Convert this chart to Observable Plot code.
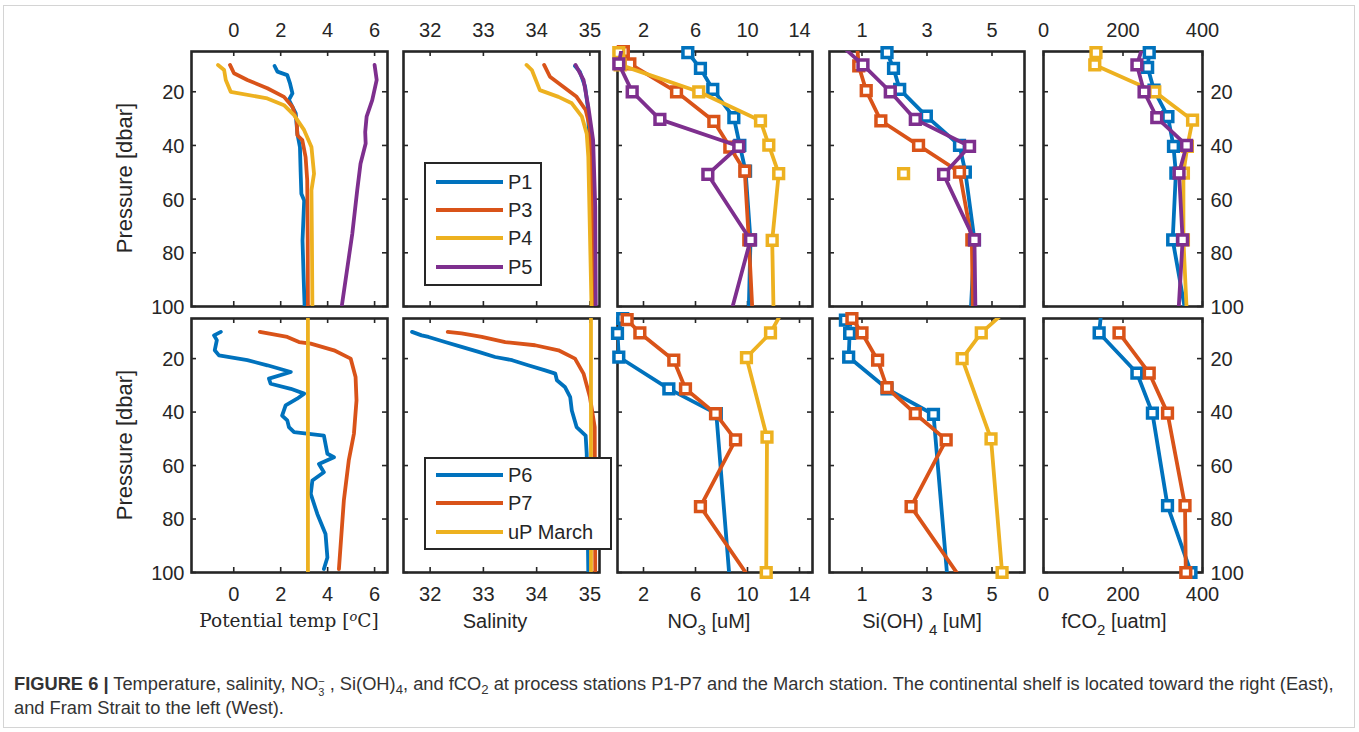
<!DOCTYPE html>
<html><head><meta charset="utf-8">
<script src="https://cdn.jsdelivr.net/npm/d3@7"></script>
<script src="https://cdn.jsdelivr.net/npm/@observablehq/plot@0.6"></script>
<style>
body{margin:0;background:#fff;}
#root{position:relative;width:1359px;height:732px;overflow:hidden;font-family:"Liberation Sans",Arial,sans-serif;color:#262626;}
.t{position:absolute;white-space:nowrap;transform:translate(-50%,-50%);font-size:20px;}
.sub{font-size:0.75em;position:relative;top:0.45em;}
.legend{position:absolute;border:2px solid #262626;background:#fff;box-sizing:border-box;}
.lline{position:absolute;height:4px;}
.ltext{position:absolute;font-size:20px;transform:translateY(-50%);white-space:nowrap;}
.cap{position:absolute;left:14px;font-size:18.3px;line-height:22px;color:#333;white-space:nowrap;transform:translateY(-50%);}
.cap sub{font-size:0.72em;line-height:0;vertical-align:-0.3em;}
.stack{display:inline-block;vertical-align:-0.55em;font-size:0.6em;line-height:1.05;}
.stack span{display:block;}
#border{position:absolute;left:3px;top:5px;width:1352px;height:723px;border:1px solid #d4d4d4;box-sizing:border-box;}
</style></head><body><div id="root"><div id="border"></div></div>
<script>
// ---------- data: [pressure (dbar), value] ----------
const pressureTicks = [20, 40, 60, 80, 100];
const tempTicks = [0, 2, 4, 6];
const salTicks = [32, 33, 34, 35];
const no3Ticks = [2, 6, 10, 14];
const siTicks = [1, 3, 5];
const co2Ticks = [0, 200, 400];

// Potential temperature, top row
const tempP1 = [[10.4,1.74],[12.5,1.86],[13.8,2.28],[17,2.4],[20.6,2.5],[23,2.35],[28,2.64],[35.6,2.71],[40.6,2.82],[50,2.85],[58,2.88],[60.5,3.0],[75.4,2.93],[90,2.98],[100,3.02]];
const tempP3 = [[10,-0.16],[13.1,0.01],[15.6,0.58],[18.7,1.43],[21.9,2.14],[25.6,2.5],[30.6,2.68],[36.2,2.71],[38,2.92],[44.3,3.06],[53,3.13],[75,3.15],[100,3.16]];
const tempP4 = [[10,-0.67],[11.9,-0.41],[15.6,-0.34],[20,-0.13],[22.5,1.43],[25,2.14],[28.7,2.57],[34.3,3.0],[40.6,3.31],[50.5,3.42],[56.7,3.31],[75,3.33],[100,3.35]];
const tempP5 = [[10,6.0],[15.6,6.09],[23.1,5.9],[29.3,5.66],[35,5.6],[39.3,5.62],[46.8,5.4],[56.7,5.26],[72.9,5.05],[100,4.6]];
// Potential temperature, bottom row
const tempP6 = [[10,-0.55],[11.3,-0.84],[13.1,-0.72],[16.9,-0.81],[18.8,-0.63],[20.6,0.58],[22.5,1.43],[25,2.43],[27.5,1.5],[29.4,1.57],[31.3,2.43],[33.1,3.0],[35,2.7],[37.5,2.21],[41.3,2.06],[43.1,2.28],[45.6,2.35],[47.5,2.57],[48.8,3.84],[55.6,3.99],[56.9,4.27],[59.4,3.63],[62.5,3.84],[65.6,3.35],[70.6,3.28],[78.1,3.56],[85.6,3.91],[94.4,3.99],[98.7,3.84]];
const tempP7 = [[10,1.11],[11.9,2.28],[13.8,2.78],[14.4,3.28],[16.9,4.27],[20,4.98],[26.9,5.19],[35.6,5.23],[48.1,5.12],[58.1,4.9],[73.1,4.69],[98.7,4.48]];
const tempMarch = [[5,3.16],[100,3.16]];

// Salinity, top row
const salP1 = [[10.4,34.72],[12.5,34.81],[18.1,34.91],[25.6,34.96],[53,35.02],[100,35.06]];
const salP3 = [[10,34.14],[14.4,34.25],[18.1,34.5],[21.9,34.75],[26.8,34.92],[33,35.0],[50.5,35.03],[100,35.06]];
const salP4 = [[10,33.81],[11.9,33.91],[19.4,34.06],[21.9,34.41],[24.3,34.66],[29.3,34.85],[35.6,34.94],[44.3,34.97],[100,35.03]];
const salP5 = [[10,34.73],[15.6,34.88],[25.6,34.97],[38,35.06],[63,35.1],[100,35.11]];
// Salinity, bottom row
const salP6 = [[10,31.66],[11.3,31.84],[11.9,31.97],[13.8,32.28],[15.6,32.59],[17.5,32.91],[19.4,33.22],[20.6,33.54],[22.5,33.84],[24.4,34.16],[25.6,34.35],[28.1,34.38],[30.6,34.53],[34.4,34.63],[39.4,34.66],[45.6,34.75],[48.8,34.92],[55.6,34.94],[100,34.97]];
const salP7 = [[10,32.33],[10.6,32.59],[11.9,32.97],[13.8,33.41],[15,33.97],[16.9,34.41],[20,34.72],[25.6,34.88],[34.4,35.0],[45.6,35.09],[100,35.1]];
const salMarch = [[5,35.02],[100,35.02]];

// NO3 (uM) bottle samples; points outside 5-100 dbar only continue the line
const no3P1 = [[5.4,5.41],[11.3,6.38],[19.1,7.33],[29.6,8.95],[40,9.41],[49.6,9.85],[75.2,10.23],[101,10.1]];
const no3P3 = [[5,0.45],[9.6,0.95],[20,4.54],[31,7.41],[40.6,8.64],[49.6,9.79],[75.2,10.1],[101,10.37]];
const no3P4 = [[5.4,0.1],[10,0.2],[20,6.25],[30.8,11.0],[39.9,11.64],[50.5,12.4],[75.4,11.9],[101,12.0]];
const no3P5 = [[3,0.35],[9.6,0.1],[20,1.13],[30.3,3.26],[40.3,9.33],[50.8,6.95],[75.2,10.23],[101,8.8]];
const no3P6 = [[5,0.4],[10.6,0.0],[19.4,0.1],[31.3,3.95],[40.6,7.6],[101,8.6]];
const no3P7 = [[5.4,0.74],[10.4,1.72],[20.6,4.33],[31.3,5.23],[40.6,7.54],[50.4,9.08],[75.4,6.38],[101,10.0]];
const no3March = [[3,12.6],[10.4,11.77],[19.6,9.92],[49.4,11.5],[100,11.44]];

// Si(OH)4 (uM)
const siP1 = [[5.4,1.77],[11.3,1.97],[19.1,2.16],[29.1,2.98],[40,4.0],[49.9,4.18],[75.2,4.46],[101,4.35]];
const siP3 = [[3,0.85],[10.4,0.9],[19.6,1.13],[30.8,1.58],[40,2.74],[49.9,4.0],[75.2,4.38],[101,4.41]];
const siP4 = [[50.5,2.28]];
const siP5 = [[3,0.39],[10,1.03],[20,1.87],[30.3,2.64],[40.3,4.31],[50.8,3.51],[75.2,4.46],[101,4.49]];
const siP6 = [[5.6,0.49],[10.6,0.62],[19.4,0.59],[31.3,1.77],[40.9,3.2],[101,3.62]];
const siP7 = [[5,0.69],[10.4,1.0],[20.6,1.48],[30.9,1.77],[40.6,2.64],[50.4,3.59],[75.4,2.51],[101,3.97]];
const siMarch = [[3,5.35],[10.4,4.67],[20,4.08],[50,4.97],[100,5.31]];

// fCO2 (uatm)
const co2P1 = [[5.4,266],[10.9,262],[19.4,278],[29.3,313],[40.3,327],[50.3,333],[75.2,325],[101,356]];
const co2P4 = [[5.4,132],[10,129],[20,280],[30.6,375],[40.3,362],[50.3,352],[75.2,352],[101,360]];
const co2P5 = [[3,250],[10,235],[20,253],[29.6,285],[40,360],[50.3,341],[75.2,350],[101,340]];
const co2P6 = [[3,145],[10.4,140],[25.4,235],[40.4,274],[75,312],[100,371]];
const co2P7 = [[10.4,190],[25.4,266],[40.4,312],[75,356],[100,358]];

const stationsTop = ["P1", "P3", "P4", "P5"];
const stationsBottom = ["P6", "P7", "uP March"];
const stationColors = ["#0072BD", "#D95319", "#EDB120", "#7E2F8E"];
const colorOf = {P1: stationColors[0], P3: stationColors[1], P4: stationColors[2], P5: stationColors[3],
  P6: stationColors[0], P7: stationColors[1], "uP March": stationColors[2]};

// ---------- layout ----------
const root = document.getElementById("root");
const colLeft = [191, 403, 617, 829, 1043];
const colWidth = [196, 196, 195, 195, 159];
const rowTop = [51, 318];
const rowHeight = [255, 254];
const INK = "#262626";
const FONT = '"Liberation Sans", Arial, sans-serif';

function panel({col, row, xDomain, xTicks, series, markers, leftLabels, rightLabels}) {
  const M = 40, w = colWidth[col], h = rowHeight[row];
  const marks = [
    Plot.frame({stroke: INK, strokeWidth: 2.6}),
    Plot.tickX(xTicks, {x: d => d, insetBottom: h - 5, stroke: INK, strokeWidth: 1.6}),
    Plot.tickX(xTicks, {x: d => d, insetTop: h - 5, stroke: INK, strokeWidth: 1.6}),
    Plot.tickY(pressureTicks, {y: d => d, insetRight: w - 5, stroke: INK, strokeWidth: 1.6}),
    Plot.tickY(pressureTicks, {y: d => d, insetLeft: w - 5, stroke: INK, strokeWidth: 1.6}),
    Plot.text(xTicks, {x: d => d, frameAnchor: row === 0 ? "top" : "bottom", dy: row === 0 ? -21 : 22,
      lineAnchor: "middle", text: d => String(d), fontSize: 20, fill: INK})
  ];
  if (leftLabels) marks.push(Plot.text(pressureTicks, {y: d => d, frameAnchor: "left", dx: -7, dy: 1, lineAnchor: "middle", textAnchor: "end", text: d => String(d), fontSize: 20, fill: INK}));
  if (rightLabels) marks.push(Plot.text(pressureTicks, {y: d => d, frameAnchor: "right", dx: 8, dy: 1, lineAnchor: "middle", textAnchor: "start", text: d => String(d), fontSize: 20, fill: INK}));
  for (const [name, data] of series) {
    const rows = data.map(([p, v]) => ({p, v}));
    marks.push(Plot.line(rows, {x: "v", y: "p", stroke: colorOf[name], strokeWidth: 3.8, clip: true}));
    if (markers) marks.push(Plot.dot(rows.filter(d => d.p >= 5 && d.p <= 100),
      {x: "v", y: "p", symbol: "square", r: 5.5, stroke: colorOf[name], strokeWidth: 3.5, fill: "white"}));
  }
  const svg = Plot.plot({
    width: w + 2 * M, height: h + 2 * M,
    marginLeft: M, marginRight: M, marginTop: M, marginBottom: M,
    x: {domain: xDomain, axis: null},
    y: {domain: [5, 100], reverse: true, axis: null},
    style: {background: "transparent", overflow: "visible", fontFamily: FONT, color: INK, position: "absolute",
      left: (colLeft[col] - M) + "px", top: (rowTop[row] - M) + "px", maxWidth: "none"},
    marks
  });
  root.appendChild(svg);
}

const tempDomain = [-1.8, 6.55], salDomain = [31.5, 35.18], no3Domain = [0, 15], siDomain = [0, 6], co2Domain = [0, 400];

panel({col: 0, row: 0, xDomain: tempDomain, xTicks: tempTicks, leftLabels: true,
  series: [["P1", tempP1], ["P3", tempP3], ["P4", tempP4], ["P5", tempP5]]});
panel({col: 1, row: 0, xDomain: salDomain, xTicks: salTicks,
  series: [["P1", salP1], ["P3", salP3], ["P4", salP4], ["P5", salP5]]});
panel({col: 2, row: 0, xDomain: no3Domain, xTicks: no3Ticks, markers: true,
  series: [["P1", no3P1], ["P3", no3P3], ["P4", no3P4], ["P5", no3P5]]});
panel({col: 3, row: 0, xDomain: siDomain, xTicks: siTicks, markers: true,
  series: [["P1", siP1], ["P3", siP3], ["P4", siP4], ["P5", siP5]]});
panel({col: 4, row: 0, xDomain: co2Domain, xTicks: co2Ticks, markers: true, rightLabels: true,
  series: [["P1", co2P1], ["P4", co2P4], ["P5", co2P5]]});

panel({col: 0, row: 1, xDomain: tempDomain, xTicks: tempTicks, leftLabels: true,
  series: [["P6", tempP6], ["P7", tempP7], ["uP March", tempMarch]]});
panel({col: 1, row: 1, xDomain: salDomain, xTicks: salTicks,
  series: [["P6", salP6], ["P7", salP7], ["uP March", salMarch]]});
panel({col: 2, row: 1, xDomain: no3Domain, xTicks: no3Ticks, markers: true,
  series: [["P6", no3P6], ["P7", no3P7], ["uP March", no3March]]});
panel({col: 3, row: 1, xDomain: siDomain, xTicks: siTicks, markers: true,
  series: [["P6", siP6], ["P7", siP7], ["uP March", siMarch]]});
panel({col: 4, row: 1, xDomain: co2Domain, xTicks: co2Ticks, markers: true, rightLabels: true,
  series: [["P6", co2P6], ["P7", co2P7]]});

// ---------- text overlays ----------
function addText(html, x, y, extra = "") {
  const d = document.createElement("div");
  d.className = "t";
  d.style.left = x + "px"; d.style.top = y + "px";
  d.style.cssText += extra;
  d.innerHTML = html;
  root.appendChild(d);
  return d;
}
addText("Pressure [dbar]", 125, 178, "transform:translate(-50%,-50%) rotate(-90deg);font-size:22px;");
addText("Pressure [dbar]", 125, 445, "transform:translate(-50%,-50%) rotate(-90deg);font-size:22px;");
addText("Potential temp [<sup style='font-size:0.7em;vertical-align:0.5em;font-style:italic'>o</sup>C]", 289, 620, 'font-family:"DejaVu Serif","Liberation Serif",serif;font-size:18.5px;');
addText("Salinity", 495, 621);
addText("NO<span class='sub'>3</span> [uM]", 709, 621);
addText("Si(OH) <span class='sub'>4</span> [uM]", 922, 621);
addText("fCO<span class='sub'>2</span> [uatm]", 1114, 621);

// ---------- legends ----------
function legend(left, top, width, height, names, firstY, step) {
  const box = document.createElement("div");
  box.className = "legend";
  Object.assign(box.style, {left: left + "px", top: top + "px", width: width + "px", height: height + "px"});
  root.appendChild(box);
  names.forEach((name, i) => {
    const y = firstY + i * step;
    const ln = document.createElement("div");
    ln.className = "lline";
    Object.assign(ln.style, {left: "436px", width: "67px", top: (y - 2) + "px", background: colorOf[name]});
    root.appendChild(ln);
    const tx = document.createElement("div");
    tx.className = "ltext";
    Object.assign(tx.style, {left: "508px", top: y + "px"});
    tx.textContent = name;
    root.appendChild(tx);
  });
}
legend(424, 162, 118, 124, stationsTop, 181.7, 28.3);
legend(424, 457, 188, 93, stationsBottom, 475, 28.3);

// ---------- caption ----------
const cap1 = document.createElement("div");
cap1.className = "cap"; cap1.style.top = "686px";
cap1.innerHTML = "<b>FIGURE 6 |</b> Temperature, salinity, NO<span class='stack'><span>&minus;</span><span>3</span></span> , Si(OH)<sub>4</sub>, and fCO<sub>2</sub> at process stations P1-P7 and the March station. The continental shelf is located toward the right (East),";
root.appendChild(cap1);
const cap2 = document.createElement("div");
cap2.className = "cap"; cap2.style.top = "708px";
cap2.textContent = "and Fram Strait to the left (West).";
root.appendChild(cap2);
</script></body></html>
